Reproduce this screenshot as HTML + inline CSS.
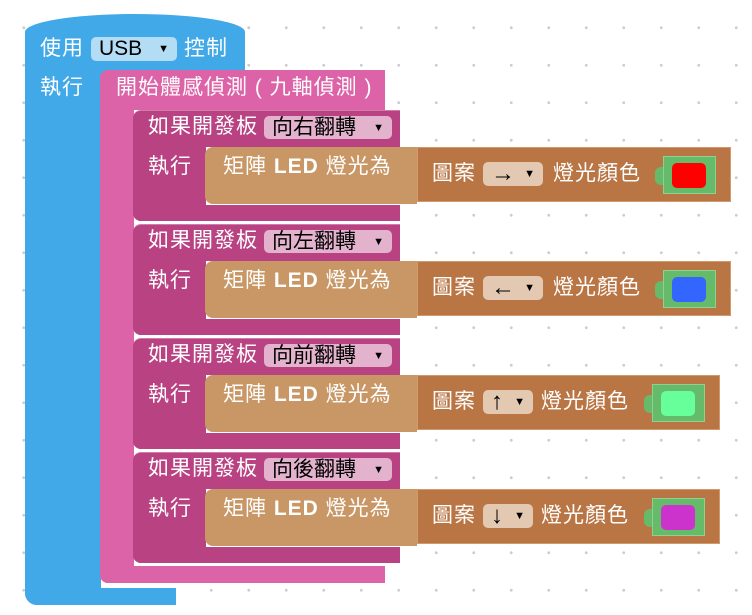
<!DOCTYPE html><html><head><meta charset="utf-8"><style>
body{margin:0;width:752px;height:615px;position:relative;overflow:hidden;background:#fff;
background-image:radial-gradient(circle,#ccc 1.3px,transparent 1.6px);background-size:37.5px 37.5px;background-position:5px 9px;
font-family:"Liberation Sans","Noto Sans CJK TC",sans-serif;}
div{position:absolute;box-sizing:border-box}
.t{color:#fff;font-size:21px;line-height:24px;white-space:nowrap;letter-spacing:1px}
.dd{border-radius:5px;color:#000;font-size:21px;line-height:24px;white-space:nowrap;padding-left:8px}
.ar{font-size:11px;position:absolute;right:8px;top:0}
</style></head><body>
<!-- blue -->
<div style="left:25px;top:14px;width:220px;height:60px;background:#42a9e9;border-radius:110px 110px 0 0/18px 18px 0 0"></div>
<div style="left:25px;top:32px;width:220px;height:36px;background:#42a9e9"></div>
<div style="left:25px;top:60px;width:76px;height:545px;background:#42a9e9;border-radius:0 0 0 12px"></div>
<div style="left:25px;top:588px;width:151px;height:17px;background:#42a9e9;border-radius:0 0 0 12px"></div>
<div class="t" style="left:40px;top:37px">使用</div>
<div class="dd" style="left:91px;top:37px;width:86px;height:24px;background:#b3dcf5">USB<span class="ar">▼</span></div>
<div class="t" style="left:184px;top:37px">控制</div>
<div class="t" style="left:40px;top:76px">執行</div>
<!-- pink -->
<div style="left:100px;top:70px;width:285px;height:40px;background:#dc63a7;border-radius:8px 0 0 0"></div>
<div style="left:100px;top:100px;width:34px;height:483px;background:#dc63a7;border-radius:0 0 0 8px"></div>
<div style="left:100px;top:566px;width:285px;height:17px;background:#dc63a7;border-radius:0 0 0 8px"></div>
<div class="t" style="left:116px;top:76px">開始體感偵測 ( 九軸偵測 )</div>
<div id="c"></div>
<script>
var data=[["向右翻轉","→","#ff0000",731],["向左翻轉","←","#3366ff",731],["向前翻轉","↑","#66ff99",720],["向後翻轉","↓","#cc33cc",720]];
var h="";
data.forEach(function(d,i){var y=110+i*114;
h+='<div style="left:133px;top:'+y+'px;width:267px;height:37px;background:#b94283;border-radius:8px 0 0 0;border-top:1px solid #d47aa8"></div>';
h+='<div style="left:133px;top:'+(y+30)+'px;width:73px;height:81px;background:#b94283;border-radius:0 0 0 8px"></div>';
h+='<div style="left:133px;top:'+(y+95)+'px;width:267px;height:16px;background:#b94283;border-radius:0 0 0 8px"></div>';
h+='<div class="t" style="left:148px;top:'+(y+5)+'px">如果開發板</div>';
h+='<div class="dd" style="left:264px;top:'+(y+6)+'px;width:128px;height:23px;background:#e3b3cd">'+d[0]+'<span class="ar">▼</span></div>';
h+='<div class="t" style="left:148px;top:'+(y+45)+'px">執行</div>';
h+='<div style="left:205px;top:'+(y+37)+'px;width:212px;height:57px;background:#c99765;border-radius:8px 0 0 8px"></div>';
h+='<div class="t" style="left:223px;top:'+(y+45)+'px">矩陣 <b>LED</b> 燈光為</div>';
h+='<div style="left:417px;top:'+(y+37)+'px;width:'+(d[3]-417)+'px;height:55px;background:#b97544;border:1px solid #d09a6d"></div>';
h+='<div class="t" style="left:432px;top:'+(y+52)+'px">圖案</div>';
h+='<div class="dd" style="left:483px;top:'+(y+52)+'px;width:'+(i<2?60:50)+'px;height:24px;background:#e3c8b2;font-size:24px">'+d[1]+'<span class="ar">▼</span></div>';
var tx=i<2?553:541;
h+='<div class="t" style="left:'+tx+'px;top:'+(y+52)+'px">燈光顏色</div>';
var gx=d[3]-68;
h+='<div style="left:'+(gx-8)+'px;top:'+(y+57)+'px;width:12px;height:18px;background:#66bb6a;border-radius:6px 0 0 6px"></div>';
h+='<div style="left:'+gx+'px;top:'+(y+46)+'px;width:53px;height:38px;background:#66bb6a;border:1px solid #8fd18f"></div>';
h+='<div style="left:'+(gx+9)+'px;top:'+(y+53)+'px;width:34px;height:25px;background:'+d[2]+';border-radius:5px"></div>';
});
document.getElementById('c').outerHTML=h;
</script>
</body></html>
